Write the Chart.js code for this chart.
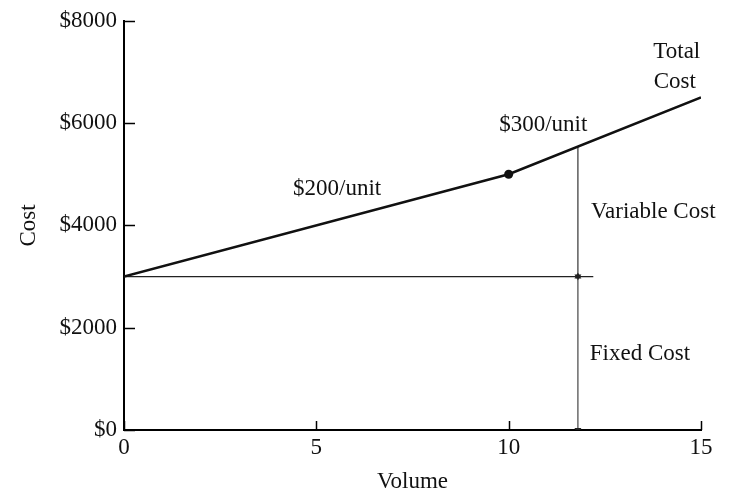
<!DOCTYPE html>
<html lang="en">
<head>
    <meta charset="UTF-8">
    <title>Cost vs Volume</title>
    <script src="https://cdn.jsdelivr.net/npm/chart.js"></script>
    <style>
        body { margin: 0; background: #fff; }
        canvas { display: block; }
    </style>
</head>
<body>
    <canvas id="grafica" width="740" height="500"></canvas>

    <script>
        // datos
        const volumen = [0, 10, 15];
        const costoTotal = [3000, 5000, 6500];
        const quiebre = [10];          // punto donde cambia la pendiente
        const costoFijo = 3000;
        const finCostoFijo = 12.2;     // hasta donde llega la linea horizontal
        const volMarca = 11.8;         // flecha vertical
        const topeMarca = 5540;
        const ticksY = [0, 2000, 4000, 6000, 8000];
        const ticksX = [0, 5, 10, 15];
        const etiquetas = ['$200/unit', '$300/unit', 'Total', 'Cost', 'Variable Cost', 'Fixed Cost'];
        const etiquetasX = [5.54, 10.9, 14.37, 14.32, 12.14, 12.11];
        const etiquetasY = [4710, 5955, 7396, 6812, 4262, 1480];
        const etiquetasAlin = ['center', 'center', 'center', 'center', 'left', 'left'];

        const fuente = 'Liberation Serif';
        const tam = 23;

        const textos = {
            id: 'textos',
            afterDraw(chart) {
                const ctx = chart.ctx;
                const x = chart.scales.x, y = chart.scales.y;
                ctx.save();
                ctx.strokeStyle = '#000';
                ctx.lineWidth = 1.5;
                // ticks hacia adentro
                ticksY.forEach(v => {
                    const py = Math.round(y.getPixelForValue(v)) + 0.5;
                    ctx.beginPath();
                    ctx.moveTo(x.left, py);
                    ctx.lineTo(x.left + 11, py);
                    ctx.stroke();
                });
                ticksX.forEach(v => {
                    const px = Math.round(x.getPixelForValue(v)) + 0.5;
                    ctx.beginPath();
                    ctx.moveTo(px, y.bottom);
                    ctx.lineTo(px, y.bottom - 9);
                    ctx.stroke();
                });
                ctx.fillStyle = '#111';
                ctx.font = tam + 'px "' + fuente + '"';
                ctx.textBaseline = 'middle';
                etiquetas.forEach((t, i) => {
                    ctx.textAlign = etiquetasAlin[i];
                    ctx.fillText(t, x.getPixelForValue(etiquetasX[i]), y.getPixelForValue(etiquetasY[i]));
                });
                ctx.restore();
            }
        };

        const ctx = document.getElementById('grafica').getContext('2d');
        new Chart(ctx, {
            type: 'scatter',
            data: {
                datasets: [
                    {
                        label: 'Total Cost',
                        data: volumen.map((v, i) => ({ x: v, y: costoTotal[i] })),
                        showLine: true,
                        borderColor: '#111',
                        borderWidth: 2.5,
                        pointRadius: volumen.map(v => quiebre.includes(v) ? 4.5 : 0),
                        pointBackgroundColor: '#111',
                        pointBorderWidth: 0
                    },
                    {
                        label: 'Fixed Cost',
                        data: [{ x: 0, y: costoFijo }, { x: finCostoFijo, y: costoFijo }],
                        showLine: true,
                        borderColor: '#222',
                        borderWidth: 1.2,
                        pointRadius: 0
                    },
                    {
                        label: 'Fixed arrow',
                        data: [{ x: volMarca, y: 0 }, { x: volMarca, y: costoFijo }],
                        showLine: true,
                        borderColor: '#444',
                        borderWidth: 1.2,
                        pointStyle: 'triangle',
                        pointRadius: 4,
                        pointRotation: [180, 0],
                        pointBackgroundColor: '#222',
                        pointBorderWidth: 0
                    },
                    {
                        label: 'Variable arrow',
                        data: [{ x: volMarca, y: costoFijo }, { x: volMarca, y: topeMarca }],
                        showLine: true,
                        borderColor: '#333',
                        borderWidth: 1.2,
                        pointStyle: 'triangle',
                        pointRadius: [4, 0],
                        pointRotation: 180,
                        pointBackgroundColor: '#222',
                        pointBorderWidth: 0
                    }
                ]
            },
            options: {
                responsive: false,
                animation: false,
                layout: { padding: { top: 19, right: 39, left: 0, bottom: 0 } },
                plugins: {
                    legend: { display: false },
                    tooltip: { enabled: false }
                },
                scales: {
                    x: {
                        type: 'linear',
                        min: 0,
                        max: 15,
                        afterBuildTicks: s => { s.ticks = ticksX.map(v => ({ value: v })); },
                        afterFit: s => { s.height = 70; },
                        grid: { display: true, drawOnChartArea: false, drawTicks: false },
                        border: { display: true, color: '#000', width: 2 },
                        ticks: { color: '#111', padding: 4, font: { family: fuente, size: tam } },
                        title: { display: true, text: 'Volume', color: '#111', padding: { top: 18 }, font: { family: fuente, size: tam } }
                    },
                    y: {
                        min: 0,
                        max: 8000,
                        afterBuildTicks: s => { s.ticks = ticksY.map(v => ({ value: v })); },
                        afterFit: s => { s.width = 124; },
                        grid: { display: true, drawOnChartArea: false, drawTicks: false },
                        border: { display: true, color: '#000', width: 2 },
                        ticks: {
                            color: '#111',
                            padding: 7,
                            font: { family: fuente, size: tam },
                            callback: v => '$' + v
                        },
                        title: { display: true, text: 'Cost', color: '#111', padding: { top: 15, bottom: 0 }, font: { family: fuente, size: tam } }
                    }
                }
            },
            plugins: [textos]
        });
    </script>
</body>
</html>
